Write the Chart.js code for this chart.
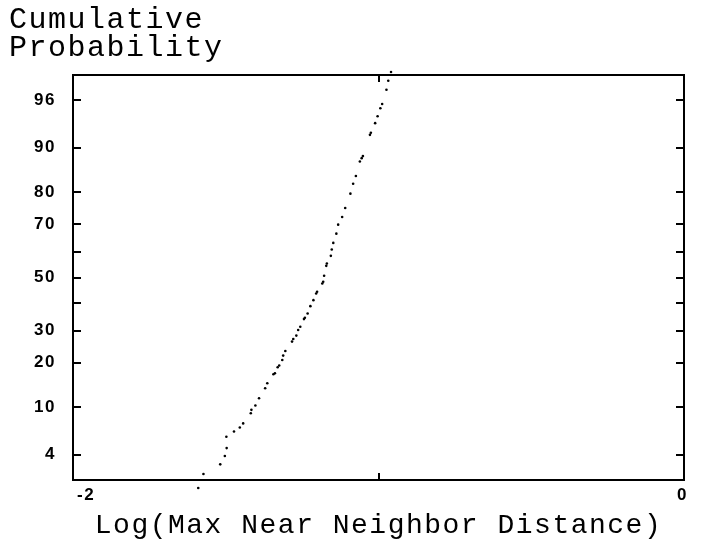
<!DOCTYPE html>
<html>
<head>
<meta charset="utf-8">
<script src="https://cdn.jsdelivr.net/npm/chart.js@4/dist/chart.umd.min.js"></script>
<style>
  html, body { margin: 0; padding: 0; background: #ffffff; }
  #wrap { width: 712px; height: 548px; }
</style>
</head>
<body>
<div id="wrap"><canvas id="c" width="712" height="548"></canvas></div>
<script>
// ---- Data (x: log distance, y: cumulative probability in %) ----
const logDistance = [
  -1.590, -1.573, -1.518, -1.503, -1.497, -1.498, -1.473, -1.454, -1.443, -1.418,
  -1.416, -1.403, -1.391, -1.371, -1.364, -1.344, -1.339, -1.330, -1.325, -1.315,
  -1.312, -1.305, -1.283, -1.279, -1.269, -1.263, -1.256, -1.244, -1.241, -1.232,
  -1.223, -1.213, -1.204, -1.201, -1.184, -1.181, -1.178, -1.171, -1.169, -1.156,
  -1.153, -1.148, -1.138, -1.132, -1.119, -1.109, -1.092, -1.083, -1.074, -1.061,
  -1.055, -1.051, -1.028, -1.025, -1.011, -1.003, -0.994, -0.988, -0.974, -0.968,
  -0.959
];
const cumulativePct = [
  1.88, 2.61, 3.25, 3.89, 4.60, 5.79, 6.42, 6.93, 7.48, 9.01,
  9.56, 10.31, 11.66, 13.70, 14.82, 16.96, 17.21, 18.76, 19.22, 20.75,
  22.03, 23.39, 26.33, 27.16, 28.30, 30.18, 31.35, 34.05, 34.57, 36.13,
  38.86, 41.14, 43.72, 44.39, 47.65, 48.33, 50.68, 54.58, 55.49, 58.47,
  60.87, 63.38, 66.75, 69.92, 72.51, 75.40, 79.62, 82.28, 84.18, 87.41,
  88.08, 88.47, 92.06, 92.35, 93.63, 94.44, 95.27, 95.67, 96.82, 97.40,
  97.88
];
const yTickPct    = [4, 10, 20, 30, 40, 50, 60, 70, 80, 90, 96];
const yTickLabels = ['4', '10', '20', '30', '', '50', '', '70', '80', '90', '96'];
const xTickValues = [-2, -1, 0];
const xTickLabels = ['-2', '', '0'];
const yTitleLines = ['Cumulative', 'Probability'];
const xTitle = 'Log(Max Near Neighbor Distance)';

// inverse normal CDF (Acklam) to place points on a probability scale
function probit(p) {
  const a = [-3.969683028665376e+01, 2.209460984245205e+02, -2.759285104469687e+02, 1.383577518672690e+02, -3.066479806614716e+01, 2.506628277459239e+00];
  const b = [-5.447609879822406e+01, 1.615858368580409e+02, -1.556989798598866e+02, 6.680131188771972e+01, -1.328068155288572e+01];
  const c = [-7.784894002430293e-03, -3.223964580411365e-01, -2.400758277161838e+00, -2.549732539343734e+00, 4.374664141464968e+00, 2.938163982698783e+00];
  const d = [7.784695709041462e-03, 3.224671290700398e-01, 2.445134137142996e+00, 3.754408661907416e+00];
  const pl = 0.02425, ph = 1 - pl;
  let q, r;
  if (p < pl) {
    q = Math.sqrt(-2 * Math.log(p));
    return (((((c[0]*q+c[1])*q+c[2])*q+c[3])*q+c[4])*q+c[5]) / ((((d[0]*q+d[1])*q+d[2])*q+d[3])*q+1);
  }
  if (p <= ph) {
    q = p - 0.5; r = q * q;
    return (((((a[0]*r+a[1])*r+a[2])*r+a[3])*r+a[4])*r+a[5])*q / (((((b[0]*r+b[1])*r+b[2])*r+b[3])*r+b[4])*r+1);
  }
  q = Math.sqrt(-2 * Math.log(1 - p));
  return -(((((c[0]*q+c[1])*q+c[2])*q+c[3])*q+c[4])*q+c[5]) / ((((d[0]*q+d[1])*q+d[2])*q+d[3])*q+1);
}

const points = logDistance.map((x, i) => ({ x: x, y: probit(cumulativePct[i] / 100) }));

// wide typewriter-like text spacing
const spacingPlugin = {
  id: 'spacing',
  beforeDraw(chart) { chart.ctx.letterSpacing = '1.5px'; }
};

// points the library positioned just outside the frame (Chart.js skips drawing them)
const outsidePointsPlugin = {
  id: 'outsidePoints',
  afterDatasetsDraw(chart) {
    const { ctx, chartArea: a } = chart;
    const meta = chart.getDatasetMeta(0);
    ctx.save();
    meta.data.forEach(el => {
      if (el.y > a.bottom || el.y < a.top || el.x < a.left || el.x > a.right) {
        Chart.helpers.drawPoint(ctx, el.options, el.x, el.y);
      }
    });
    ctx.restore();
  }
};

// frame and inward tick marks drawn from the chart's own scales
const framePlugin = {
  id: 'frame',
  afterDraw(chart) {
    const { ctx, chartArea: a, scales } = chart;
    ctx.save();
    ctx.strokeStyle = '#000';
    ctx.lineWidth = 2;
    ctx.strokeRect(a.left, a.top, a.right - a.left, a.bottom - a.top);
    ctx.beginPath();
    scales.y.ticks.forEach(t => {
      const py = Math.round(scales.y.getPixelForValue(t.value));
      ctx.moveTo(a.left, py); ctx.lineTo(a.left + 8, py);
      ctx.moveTo(a.right, py); ctx.lineTo(a.right - 8, py);
    });
    scales.x.ticks.forEach(t => {
      if (t.value === scales.x.min || t.value === scales.x.max) return;
      const px = Math.round(scales.x.getPixelForValue(t.value));
      ctx.moveTo(px, a.bottom); ctx.lineTo(px, a.bottom - 7);
      ctx.moveTo(px, a.top); ctx.lineTo(px, a.top + 7);
    });
    ctx.stroke();
    ctx.restore();
  }
};

const monoFont = '"Liberation Mono", "Courier New", monospace';
const tickFont = { family: '"Liberation Sans", Arial, sans-serif', size: 17, weight: 'bold' };

new Chart(document.getElementById('c'), {
  type: 'scatter',
  data: {
    datasets: [{
      data: points,
      pointRadius: 1.3,
      pointHoverRadius: 1.3,
      pointBackgroundColor: '#000',
      pointBorderColor: '#000',
      pointBorderWidth: 0,
      clip: false
    }]
  },
  options: {
    responsive: false,
    animation: false,
    events: [],
    layout: { padding: { left: 9, right: 28, top: 0, bottom: 0 } },
    plugins: {
      legend: { display: false },
      tooltip: { enabled: false },
      title: {
        display: true,
        text: yTitleLines,
        align: 'start',
        color: '#000',
        font: { family: monoFont, size: 30, weight: 'normal', lineHeight: 28 / 30 },
        padding: { top: 6, bottom: 13 }
      }
    },
    scales: {
      x: {
        type: 'linear',
        min: -2, max: 0,
        grid: { display: false, drawTicks: false },
        border: { display: false },
        afterBuildTicks(s) { s.ticks = xTickValues.map(v => ({ value: v })); },
        afterFit(s) { s.height = 68; s.paddingLeft = 0; s.paddingRight = 0; },
        ticks: {
          color: '#000',
          font: tickFont,
          padding: 5,
          maxRotation: 0,
          autoSkip: false,
          align: 'inner',
          labelOffset: 4,
          callback: (v, i) => xTickLabels[i]
        },
        title: {
          display: true,
          text: xTitle,
          color: '#000',
          font: { family: monoFont, size: 28, weight: 'normal', lineHeight: 1 },
          padding: { top: 0, bottom: 8 }
        }
      },
      y: {
        type: 'linear',
        min: -2, max: 2,
        grid: { display: false, drawTicks: false },
        border: { display: false },
        afterBuildTicks(s) { s.ticks = yTickPct.map(p => ({ value: probit(p / 100) })); },
        afterFit(s) { s.width = 64; s.paddingTop = 0; s.paddingBottom = 0; },
        ticks: {
          color: '#000',
          font: tickFont,
          padding: 17,
          autoSkip: false,
          callback: (v, i) => yTickLabels[i]
        }
      }
    }
  },
  plugins: [spacingPlugin, outsidePointsPlugin, framePlugin]
});
</script>
</body>
</html>
